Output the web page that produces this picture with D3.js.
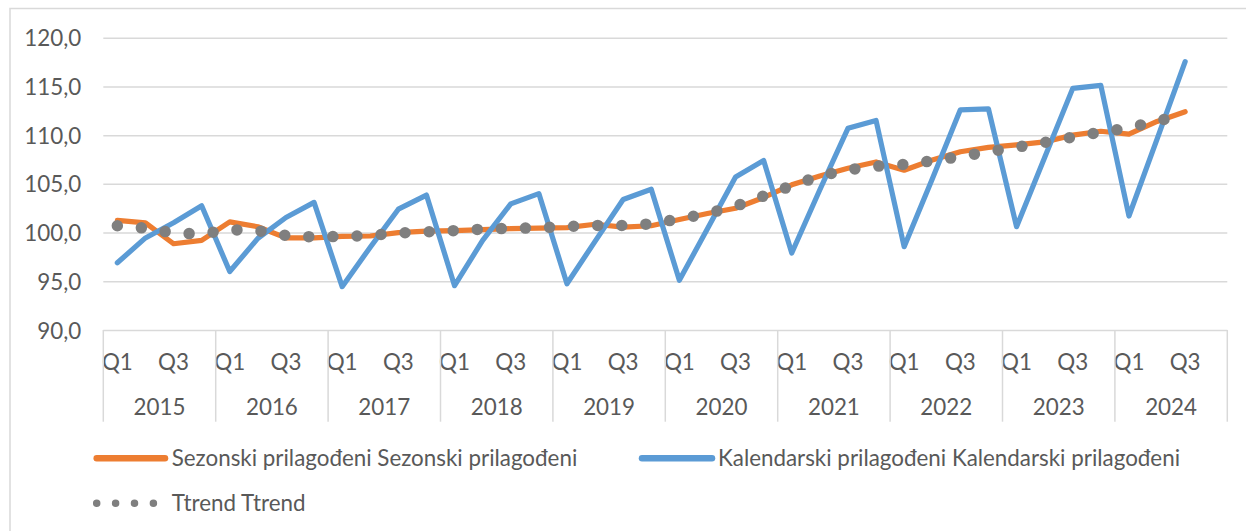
<!DOCTYPE html>
<html>
<head>
<meta charset="utf-8">
<script src="https://cdn.jsdelivr.net/npm/d3@7"></script>
<style>
  html, body { margin: 0; padding: 0; background: #ffffff; }
  svg { display: block; }
</style>
</head>
<body>
<svg id="chart" width="1246" height="531"></svg>
<script>
// ---------------- DATA ----------------
const years = ["2015","2016","2017","2018","2019","2020","2021","2022","2023","2024"];
const quarters = ["Q1","Q2","Q3","Q4"];
const quarterLabels = ["Q1","","Q3",""];
const yTicks = [90,95,100,105,110,115,120];

const sezonski = [
  101.25,101.0,98.85,99.2,
  101.1,100.6,99.45,99.45,
  99.6,99.65,100.0,100.15,
  100.2,100.3,100.4,100.45,
  100.5,100.85,100.55,100.7,
  101.35,101.95,102.5,103.6,
  104.9,105.8,106.6,107.25,
  106.4,107.45,108.3,108.75,
  109.0,109.3,110.0,110.4,
  110.1,111.4,112.4,null
];
const kalendarski = [
  96.9,99.45,101.0,102.75,
  96.0,99.4,101.55,103.1,
  94.45,98.5,102.4,103.85,
  94.55,99.2,102.95,104.0,
  94.75,99.1,103.4,104.45,
  95.1,100.4,105.7,107.4,
  97.9,104.4,110.7,111.5,
  98.55,105.5,112.6,112.7,
  100.6,107.7,114.8,115.1,
  101.7,109.6,117.55,null
];
const ttrend = [
  100.7,100.45,99.95,99.85,
  100.3,100.2,99.7,99.55,
  99.6,99.7,99.95,100.07,
  100.2,100.35,100.44,100.48,
  100.62,100.74,100.72,100.9,
  101.4,101.95,102.7,103.75,
  104.8,105.8,106.45,106.8,
  107.0,107.35,107.8,108.3,
  108.75,109.25,109.8,110.3,
  110.75,111.45,112.1,null
];
const seriesNames = [
  "Sezonski prilagođeni Sezonski prilagođeni",
  "Kalendarski prilagođeni Kalendarski prilagođeni",
  "Ttrend Ttrend"
];
const colors = { sezonski: "#ED7D31", kalendarski: "#5B9BD5", trend: "#7F7F7F" };

// ---------------- LAYOUT ----------------
const svg = d3.select("#chart");
const FONT = "Lato, 'Open Sans', 'Liberation Sans', sans-serif";
const textColor = "#595959";
const gridColor = "#D9D9D9";

// fit font size so the legend text width matches the reference (Calibri ~24px)
const probe = svg.append("text").attr("font-family", FONT).attr("font-size", 24)
  .text(seriesNames[0]);
const probeW = probe.node().getComputedTextLength();
probe.remove();
const FS = 24 * 406 / probeW;

const plot = { left: 103.3, right: 1227.3, top: 37.7, bottom: 330 };

const cats = [];
years.forEach(y => quarters.forEach(q => cats.push(y + "-" + q)));

const x = d3.scaleBand().domain(cats).range([plot.left, plot.right]).padding(0);
const y = d3.scaleLinear().domain([90, 120]).range([plot.bottom, plot.top]);

// outer frame
svg.append("rect")
  .attr("x", 10).attr("y", 8.5).attr("width", 1400).attr("height", 700)
  .attr("fill", "none").attr("stroke", gridColor).attr("stroke-width", 1.5);

// gridlines
const yAxis = d3.axisLeft(y).tickValues(yTicks)
  .tickSize(-(plot.right - plot.left)).tickPadding(22)
  .tickFormat(d => d3.format(".1f")(d).replace(".", ","));
const gy = svg.append("g").attr("transform", `translate(${plot.left},0)`).call(yAxis);
gy.select(".domain").remove();
gy.selectAll(".tick line").attr("stroke", gridColor).attr("stroke-width", 1.5);
gy.selectAll(".tick text")
  .attr("font-family", FONT).attr("font-size", FS).attr("fill", textColor)
  .attr("dy", "0.36em");

// category axis: Q labels and year labels with separators
const gx = svg.append("g");
gx.selectAll("text.q").data(cats).join("text")
  .attr("class", "q")
  .attr("x", d => x(d) + x.bandwidth() / 2)
  .attr("y", 361.7).attr("dy", "0.36em")
  .attr("text-anchor", "middle")
  .attr("font-family", FONT).attr("font-size", FS).attr("fill", textColor)
  .text((d, i) => quarterLabels[i % 4]);

gx.selectAll("text.yr").data(years).join("text")
  .attr("class", "yr")
  .attr("x", d => (x(d + "-Q1") + x(d + "-Q4") + x.bandwidth()) / 2)
  .attr("y", 407.3).attr("dy", "0.36em")
  .attr("text-anchor", "middle")
  .attr("font-family", FONT).attr("font-size", FS).attr("fill", textColor)
  .text(d => d);

const sepX = years.map(d => x(d + "-Q1")).concat([plot.right]);
gx.selectAll("line.sep").data(sepX).join("line")
  .attr("class", "sep")
  .attr("x1", d => d).attr("x2", d => d)
  .attr("y1", plot.bottom).attr("y2", 421.7)
  .attr("stroke", gridColor).attr("stroke-width", 1.5);

// ---------------- SERIES ----------------
const cx = (d, i) => x(cats[i]) + x.bandwidth() / 2;
const line = d3.line().defined(d => d != null).x((d, i) => cx(d, i)).y(d => y(d));

svg.append("path").datum(sezonski)
  .attr("fill", "none").attr("stroke", colors.sezonski).attr("stroke-width", 5.2)
  .attr("stroke-linejoin", "round").attr("stroke-linecap", "round")
  .attr("d", line);

svg.append("path").datum(kalendarski)
  .attr("fill", "none").attr("stroke", colors.kalendarski).attr("stroke-width", 5.2)
  .attr("stroke-linejoin", "round").attr("stroke-linecap", "round")
  .attr("d", line);

svg.append("path").datum(ttrend)
  .attr("fill", "none").attr("stroke", colors.trend).attr("stroke-width", 11.5)
  .attr("stroke-linecap", "round").attr("stroke-dasharray", "0 24.1")
  .attr("d", line);

// ---------------- LEGEND ----------------
const lg = svg.append("g");
const legendItems = [
  { name: seriesNames[0], color: colors.sezonski, x1: 96.7, x2: 165, y: 458.3, tx: 171.7, dotted: false },
  { name: seriesNames[1], color: colors.kalendarski, x1: 642, x2: 712, y: 458.3, tx: 718, dotted: false },
  { name: seriesNames[2], color: colors.trend, x1: 96.7, x2: 154.5, y: 503.3, tx: 171.7, dotted: true }
];
legendItems.forEach(it => {
  lg.append("line")
    .attr("x1", it.x1).attr("x2", it.x2).attr("y1", it.y).attr("y2", it.y)
    .attr("stroke", it.color)
    .attr("stroke-width", it.dotted ? 7.5 : 6.5)
    .attr("stroke-linecap", "round")
    .attr("stroke-dasharray", it.dotted ? "0 18.9" : null);
  lg.append("text")
    .attr("x", it.tx).attr("y", it.y).attr("dy", "0.36em")
    .attr("font-family", FONT).attr("font-size", FS).attr("fill", textColor)
    .text(it.name);
});
</script>
</body>
</html>
